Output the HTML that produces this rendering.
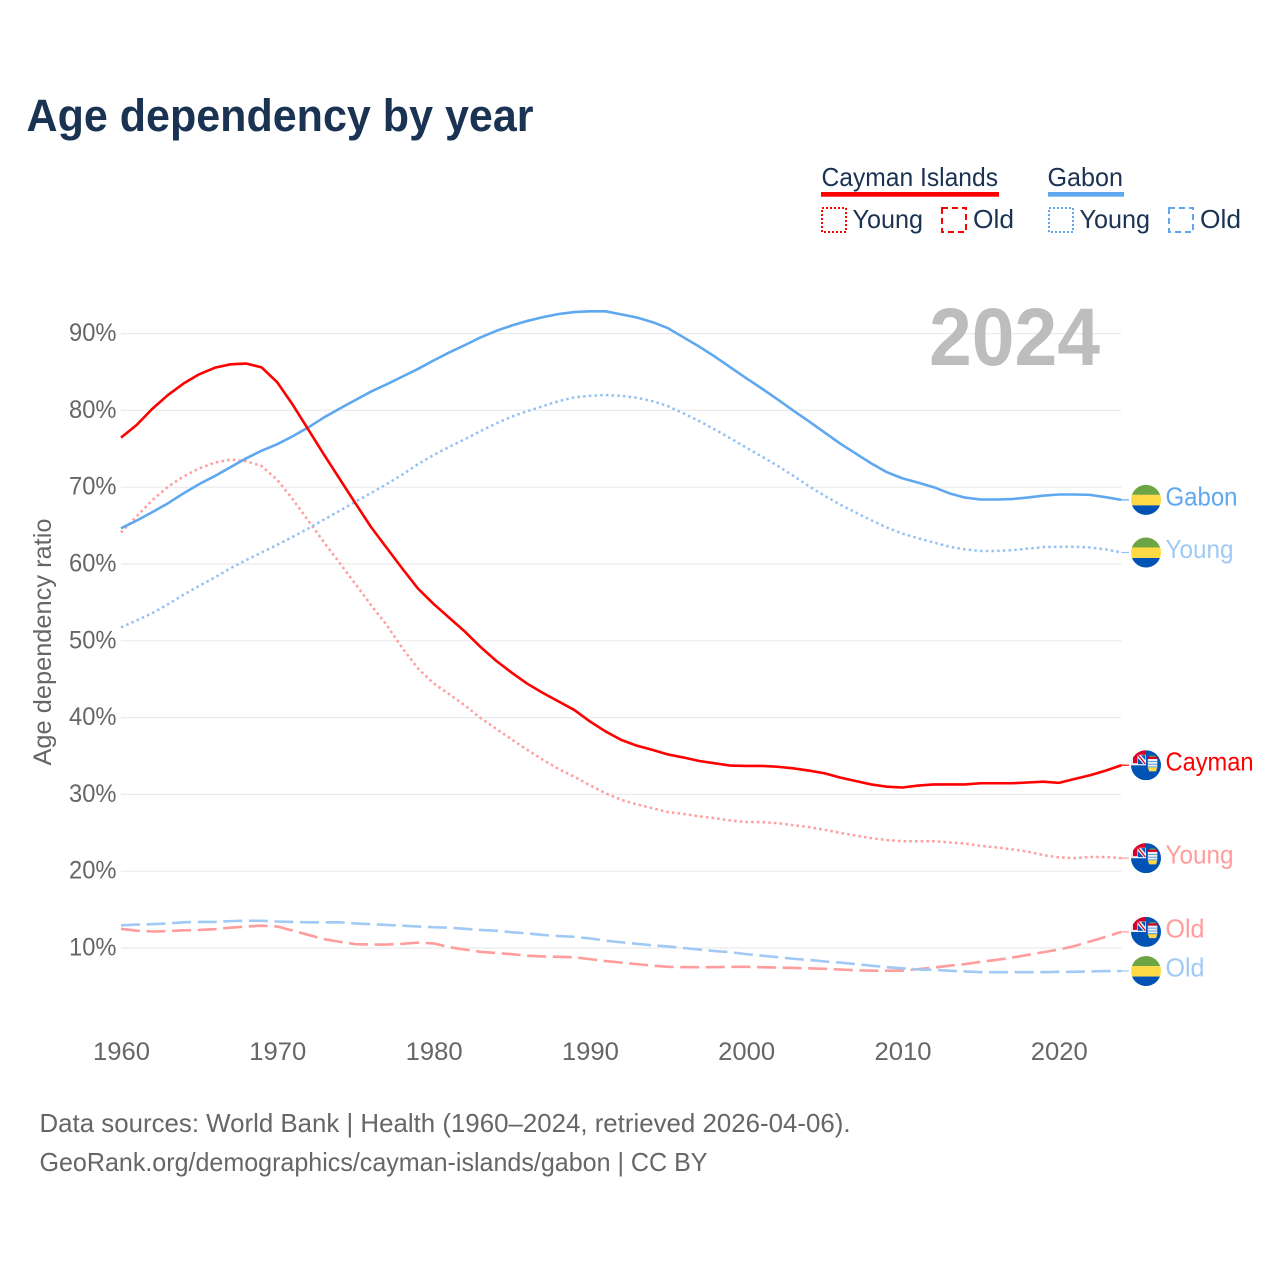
<!DOCTYPE html>
<html lang="en">
<head>
<meta charset="utf-8">
<title>Age dependency by year</title>
<style>
html,body{margin:0;padding:0;background:#fff;}
body{width:1280px;height:1280px;overflow:hidden;}
svg{display:block;font-family:"Liberation Sans",sans-serif;}
</style>
</head>
<body>
<svg id="chart" xmlns="http://www.w3.org/2000/svg" width="1280" height="1280" viewBox="0 0 1280 1280">
  <rect x="0" y="0" width="1280" height="1280" fill="#ffffff"/>
  <text x="26.5" y="131" font-size="45" font-weight="700" fill="#1a3353" textLength="507" lengthAdjust="spacingAndGlyphs">Age dependency by year</text>

  <g font-size="26" fill="#1a3353">
    <text x="821.5" y="186" textLength="176.5" lengthAdjust="spacingAndGlyphs">Cayman Islands</text>
    <rect x="821" y="192" width="178" height="4.7" fill="#ff0000"/>
    <text x="1047.5" y="186" textLength="75.5" lengthAdjust="spacingAndGlyphs">Gabon</text>
    <rect x="1048" y="192" width="76" height="4.7" fill="#5fa8f0"/>

    <rect x="822" y="208" width="24" height="24" fill="none" stroke="#ff0000" stroke-width="2" stroke-dasharray="2 2"/>
    <text x="852.5" y="228" textLength="70.5" lengthAdjust="spacingAndGlyphs">Young</text>
    <rect x="942" y="208" width="24" height="24" fill="none" stroke="#ff0000" stroke-width="2" stroke-dasharray="6 4"/>
    <text x="973" y="228" textLength="41" lengthAdjust="spacingAndGlyphs">Old</text>

    <rect x="1049" y="208" width="24" height="24" fill="none" stroke="#5fa8f0" stroke-width="2" stroke-dasharray="2 2"/>
    <text x="1079.5" y="228" textLength="70.5" lengthAdjust="spacingAndGlyphs">Young</text>
    <rect x="1169" y="208" width="24" height="24" fill="none" stroke="#5fa8f0" stroke-width="2" stroke-dasharray="6 4"/>
    <text x="1200" y="228" textLength="41" lengthAdjust="spacingAndGlyphs">Old</text>
  </g>

  <g id="grid"></g>
  <text x="929" y="365" font-size="82" font-weight="700" fill="#bdbdbd" textLength="171" lengthAdjust="spacingAndGlyphs">2024</text>
  <g id="yticks"></g>
  <g id="xticks"></g>
  <text transform="translate(51,642) rotate(-90)" text-anchor="middle" font-size="25" fill="#666666" textLength="247" lengthAdjust="spacingAndGlyphs">Age dependency ratio</text>
  <g id="series"></g>
  <g id="ends"></g>

  <text x="39.5" y="1132" font-size="26" fill="#666666" textLength="811" lengthAdjust="spacingAndGlyphs">Data sources: World Bank | Health (1960–2024, retrieved 2026-04-06).</text>
  <text x="39.5" y="1171" font-size="26" fill="#666666" textLength="668" lengthAdjust="spacingAndGlyphs">GeoRank.org/demographics/cayman-islands/gabon | CC BY</text>
</svg>
<script>
const years = [1960,1961,1962,1963,1964,1965,1966,1967,1968,1969,
  1970,1971,1972,1973,1974,1975,1976,1977,1978,1979,
  1980,1981,1982,1983,1984,1985,1986,1987,1988,1989,
  1990,1991,1992,1993,1994,1995,1996,1997,1998,1999,
  2000,2001,2002,2003,2004,2005,2006,2007,2008,2009,
  2010,2011,2012,2013,2014,2015,2016,2017,2018,2019,
  2020,2021,2022,2023,2024];
const yTickValues = [10,20,30,40,50,60,70,80,90];
const yTickLabels = ['10%','20%','30%','40%','50%','60%','70%','80%','90%'];
const xTickValues = [1960,1970,1980,1990,2000,2010,2020];
const xTickLabels = ['1960','1970','1980','1990','2000','2010','2020'];

const caymanTotal = [76.45,78.1,80.2,82.0,83.5,84.7,85.55,86.0,86.1,85.6,
  83.65,80.7,77.45,74.2,71.05,67.9,64.8,62.1,59.4,56.8,
  54.8,53.0,51.2,49.2,47.4,45.85,44.4,43.2,42.1,41.0,
  39.5,38.2,37.1,36.35,35.8,35.2,34.8,34.35,34.05,33.75,
  33.7,33.7,33.6,33.4,33.1,32.75,32.2,31.75,31.3,31.0,
  30.9,31.15,31.3,31.3,31.3,31.45,31.45,31.45,31.55,31.65,
  31.5,32.0,32.5,33.1,33.8];
const caymanYoung = [64.1,66.2,68.3,70.05,71.4,72.45,73.2,73.6,73.4,72.75,
  70.95,68.4,65.6,62.8,60.1,57.4,54.65,52.05,49.05,46.4,
  44.45,43.05,41.6,39.95,38.55,37.15,35.8,34.5,33.3,32.3,
  31.2,30.15,29.3,28.7,28.2,27.7,27.45,27.15,26.9,26.6,
  26.4,26.4,26.25,26.0,25.75,25.4,25.0,24.65,24.3,24.05,
  23.9,23.9,23.9,23.75,23.6,23.3,23.1,22.85,22.55,22.1,
  21.8,21.7,21.85,21.85,21.7];
const caymanOld = [12.5,12.25,12.15,12.2,12.3,12.35,12.45,12.65,12.8,12.9,
  12.8,12.25,11.7,11.15,10.8,10.5,10.45,10.45,10.55,10.7,
  10.6,10.1,9.8,9.5,9.35,9.2,9.0,8.9,8.85,8.8,
  8.55,8.3,8.1,7.9,7.7,7.55,7.5,7.5,7.5,7.55,
  7.55,7.5,7.45,7.4,7.35,7.3,7.2,7.1,7.05,7.05,
  7.05,7.25,7.45,7.7,7.9,8.2,8.45,8.75,9.1,9.45,
  9.8,10.25,10.85,11.45,12.1];
const gabonTotal = [64.65,65.65,66.75,67.9,69.2,70.4,71.45,72.6,73.75,74.75,
  75.6,76.65,77.8,79.1,80.25,81.35,82.45,83.4,84.4,85.4,
  86.5,87.55,88.5,89.5,90.35,91.05,91.65,92.15,92.55,92.8,
  92.9,92.9,92.5,92.1,91.5,90.7,89.5,88.3,87.0,85.6,
  84.2,82.85,81.45,80.0,78.6,77.15,75.7,74.4,73.1,71.95,
  71.15,70.6,70.0,69.2,68.65,68.4,68.4,68.45,68.65,68.9,
  69.05,69.05,69.0,68.7,68.35];
const gabonYoung = [51.75,52.65,53.6,54.75,56.0,57.15,58.25,59.45,60.5,61.5,
  62.5,63.55,64.65,65.8,66.95,68.1,69.25,70.4,71.65,73.0,
  74.2,75.25,76.25,77.3,78.3,79.2,79.9,80.55,81.2,81.7,
  81.9,82.0,81.9,81.65,81.2,80.55,79.6,78.6,77.5,76.35,
  75.15,74.0,72.8,71.5,70.15,68.9,67.75,66.7,65.7,64.75,
  63.95,63.35,62.8,62.25,61.9,61.7,61.7,61.8,62.0,62.2,
  62.25,62.25,62.15,61.9,61.5];
const gabonOld = [12.95,13.05,13.1,13.2,13.35,13.4,13.4,13.5,13.55,13.55,
  13.45,13.4,13.35,13.35,13.35,13.2,13.1,13.0,12.9,12.8,
  12.7,12.65,12.5,12.35,12.25,12.05,11.9,11.7,11.55,11.45,
  11.25,10.95,10.75,10.55,10.35,10.2,10.0,9.8,9.6,9.45,
  9.2,9.0,8.8,8.6,8.45,8.25,8.1,7.9,7.7,7.5,
  7.35,7.2,7.15,7.05,6.95,6.85,6.85,6.85,6.85,6.85,
  6.9,6.9,6.95,7.0,7.0];

const NS = 'http://www.w3.org/2000/svg';
const xScale = function (year) { return 121 + (year - 1960) * 15.63; };
const yScale = function (value) { return 1024.8 - value * 7.68; };

function make(tag, attrs, parent, text) {
  const el = document.createElementNS(NS, tag);
  Object.keys(attrs).forEach(function (k) { el.setAttribute(k, attrs[k]); });
  if (text !== undefined) el.textContent = text;
  parent.appendChild(el);
  return el;
}

const gridGroup = document.getElementById('grid');
const yTickGroup = document.getElementById('yticks');
const xTickGroup = document.getElementById('xticks');
const seriesGroup = document.getElementById('series');
const endGroup = document.getElementById('ends');

yTickValues.forEach(function (v, i) {
  const y = yScale(v);
  const line = make('line', {x1: xScale(1960), x2: xScale(2024), y1: y, y2: y, stroke: '#ebebeb', 'stroke-width': 1.2}, gridGroup);
  
  
  const label = make('text', {x: 69, y: y + 7.5, 'font-size': 25, fill: '#666666', textLength: 47.5, lengthAdjust: 'spacingAndGlyphs'}, yTickGroup, yTickLabels[i]);
  
  
});

xTickValues.forEach(function (yr, i) {
  const label = make('text', {x: xScale(yr) - 28, y: 1060, 'font-size': 25, fill: '#666666', textLength: 57, lengthAdjust: 'spacingAndGlyphs'}, xTickGroup, xTickLabels[i]);
  
  
});

const seriesNames = ['cayman-old','gabon-old','cayman-young','gabon-young','gabon-total','cayman-total'];
const seriesValues = [caymanOld, gabonOld, caymanYoung, gabonYoung, gabonTotal, caymanTotal];
const seriesColors = ['#ff9c9c','#a0c9f5','#ff9c9c','#92c1f4','#5fa8f0','#ff0000'];
const seriesWidths = [2.6,2.6,2.5,2.5,2.6,2.6];
const seriesDashes = ['19 6.6','19 6.6','2.5 3.2','2.5 3.2','none','none'];
const endLabels = ['Old','Old','Young','Young','Gabon','Cayman'];
const endFlags = ['cayman','gabon','cayman','gabon','gabon','cayman'];
const endLabelColors = ['#ff9c9c','#a0c9f5','#ff9c9c','#a0c9f5','#5fa8f0','#ff0000'];
const endLabelWidths = [39,39,68,68,72,88];
const flagX = 1146;

function drawGabonFlag(g, cy, clipId) {
  const c = make('g', {'clip-path': 'url(#' + clipId + ')'}, g);
  const bands = [['#6da544', -15, 10], ['#ffda44', -5, 10.5], ['#0052b4', 5.5, 10]];
  bands.forEach(function (b) {
    make('rect', {x: flagX - 15, y: cy + b[1], width: 30, height: b[2], fill: b[0]}, c);
  });
}

function drawCaymanFlag(g, cy, clipId) {
  const c = make('g', {'clip-path': 'url(#' + clipId + ')'}, g);
  const x = flagX;
  make('rect', {x: x - 15, y: cy - 15, width: 30, height: 30, fill: '#0052b4'}, c);
  make('rect', {x: x - 15, y: cy - 15, width: 15, height: 15, fill: '#f0f0f0'}, c);
  make('rect', {x: x - 13, y: cy - 15, width: 13, height: 4.6, fill: '#d80027'}, c);
  make('rect', {x: x - 13, y: cy - 15, width: 4.4, height: 13, fill: '#d80027'}, c);
  make('polygon', {points: [x - 8, cy - 7, x - 8, cy - 1, x - 2.5, cy - 1].join(' '), fill: '#0052b4'}, c);
  make('polygon', {points: [x - 5, cy - 10, x - 0.7, cy - 10, x - 0.7, cy - 5].join(' '), fill: '#0052b4'}, c);
  make('line', {x1: x - 8, y1: cy - 10.4, x2: x - 0.7, y2: cy - 1.2, stroke: '#d80027', 'stroke-width': 1.2}, c);
  make('rect', {x: x - 15, y: cy - 1, width: 15, height: 1, fill: '#f0f0f0'}, c);
  make('rect', {x: x + 3.5, y: cy - 9.6, width: 6, height: 1.6, fill: '#6da544'}, c);
  make('rect', {x: x + 1.8, y: cy - 8.4, width: 9.5, height: 2.2, fill: '#d80027'}, c);
  make('rect', {x: x + 1.8, y: cy - 6.2, width: 9.5, height: 8.4, fill: '#f0f0f0'}, c);
  [-4.2, -1.4, 1.2].forEach(function (o) {
    make('rect', {x: x + 1.8, y: cy + o, width: 9.5, height: 1, fill: '#5aa0e0'}, c);
  });
  make('polygon', {points: [x + 1.8, cy + 2.2, x + 11.3, cy + 2.2, x + 10, cy + 6.2, x + 3.2, cy + 6.2].join(' '), fill: '#ffda44'}, c);
}

const defs = make('defs', {}, document.getElementById('chart'));

seriesNames.forEach(function (name, s) {
  const values = seriesValues[s];
  const pts = values.map(function (v, i) {
    return xScale(years[i]).toFixed(2) + ',' + yScale(v).toFixed(2);
  }).join(' ');
  const attrs = {points: pts, fill: 'none', stroke: seriesColors[s], 'stroke-width': seriesWidths[s], 'stroke-linejoin': 'round'};
  if (seriesDashes[s] !== 'none') attrs['stroke-dasharray'] = seriesDashes[s];
  const line = make('polyline', attrs, seriesGroup);
  
  

  const lastYear = years[years.length - 1];
  const last = values[values.length - 1];
  const cy = yScale(last);
  const leader = make('line', {x1: xScale(lastYear), x2: flagX - 17, y1: cy, y2: cy, stroke: seriesColors[s], 'stroke-width': 1.2}, endGroup);
  
  

  const clipId = 'clip-' + name;
  const clip = make('clipPath', {id: clipId}, defs);
  make('circle', {cx: flagX, cy: cy, r: 15}, clip);
  const flag = make('g', {}, endGroup);
  
  
  if (endFlags[s] === 'gabon') drawGabonFlag(flag, cy, clipId);
  else drawCaymanFlag(flag, cy, clipId);

  const label = make('text', {x: 1165.5, y: cy + 5.5, 'font-size': 26, fill: endLabelColors[s], textLength: endLabelWidths[s], lengthAdjust: 'spacingAndGlyphs'}, endGroup, endLabels[s]);
  
  
});
</script>
</body>
</html>
